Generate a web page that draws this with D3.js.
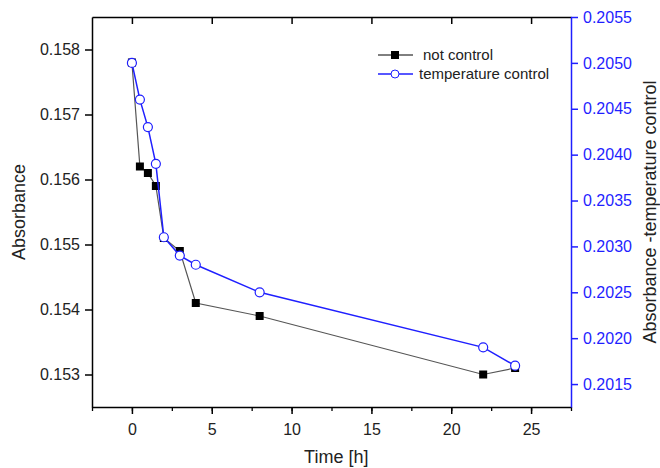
<!DOCTYPE html>
<html>
<head>
<meta charset="utf-8">
<script src="https://cdn.jsdelivr.net/npm/d3@7"></script>
<style>
	body { margin: 0; background: #fff; }
	svg { font-family: "Liberation Sans", Arial, sans-serif; }
	.tick text { font-size: 16px; }
</style>
</head>
<body>
<div id="chart"></div>
<script>

// time points (h)
const hours = [0, 0.5, 1, 1.5, 2, 3, 4, 8, 22, 24];
// absorbance, not controlled (left axis)
const notControl = [0.1578, 0.1562, 0.1561, 0.1559, 0.1551, 0.1549, 0.1541, 0.1539, 0.1530, 0.1531];
// absorbance, temperature controlled (right axis)
const tempControl = [0.2050, 0.2046, 0.2043, 0.2039, 0.2031, 0.2029, 0.2028, 0.2025, 0.2019, 0.2017];

const xTicks = [0, 5, 10, 15, 20, 25];
const yLeftTicks = [0.153, 0.154, 0.155, 0.156, 0.157, 0.158];
const yRightTicks = [0.2015, 0.2020, 0.2025, 0.2030, 0.2035, 0.2040, 0.2045, 0.2050, 0.2055];

const width = 660, height = 468;
const margin = { top: 17, right: 89, bottom: 61, left: 92 };
const blue = "#1f1fff";

const svg = d3.select("#chart").append("svg")
	.attr("width", width)
	.attr("height", height);

const x = d3.scaleLinear().domain([-2.5, 27.5]).range([margin.left, width - margin.right]);
const yL = d3.scaleLinear().domain([0.1525, 0.1585]).range([height - margin.bottom, margin.top]);
const yR = d3.scaleLinear().domain([0.20125, 0.2055]).range([height - margin.bottom, margin.top]);

const x0 = margin.left, x1 = width - margin.right;
const y0 = height - margin.bottom, y1 = margin.top;

// minor ticks helper
function minor(scale, step) {
	const [a, b] = scale.domain();
	const out = [];
	for (let v = Math.ceil(a / step - 1e-9) * step; v <= b + 1e-12; v += step) out.push(+v.toFixed(6));
	return out;
}

// bottom axis
const gx = svg.append("g").attr("transform", `translate(0,${y0})`);
gx.call(d3.axisBottom(x).tickValues(minor(x, 2.5)).tickSize(4).tickFormat(""));
gx.call(g => g.selectAll(".tick line").attr("stroke", "#000").attr("stroke-width", 1.3));
const gx2 = svg.append("g").attr("transform", `translate(0,${y0})`);
gx2.call(d3.axisBottom(x).tickValues(xTicks).tickSize(7).tickPadding(10).tickSizeOuter(0));
gx2.select(".domain").attr("stroke-width", 1.5);
gx2.selectAll(".tick line").attr("stroke-width", 1.5);
gx2.selectAll(".tick text").attr("fill", "#222");

// top axis, inward ticks
const gt = svg.append("g").attr("transform", `translate(0,${y1})`);
gt.call(d3.axisBottom(x).tickValues(minor(x, 2.5)).tickSize(4).tickFormat("").tickSizeOuter(0));
gt.call(d3.axisBottom(x).tickValues(xTicks).tickSize(7).tickFormat("").tickSizeOuter(0));
gt.selectAll(".domain").attr("stroke-width", 1.5);
gt.selectAll(".tick line").attr("stroke-width", 1.5);

// left axis
const gl = svg.append("g").attr("transform", `translate(${x0},0)`);
gl.call(d3.axisLeft(yL).tickValues(minor(yL, 0.0005)).tickSize(4).tickFormat("").tickSizeOuter(0));
gl.call(d3.axisLeft(yL).tickValues(yLeftTicks).tickSize(7).tickPadding(5).tickFormat(d3.format(".3f")).tickSizeOuter(0));
gl.selectAll(".domain").attr("stroke-width", 1.5);
gl.selectAll(".tick line").attr("stroke-width", 1.5);
gl.selectAll(".tick text").attr("fill", "#222");

// right axis (blue)
const gr = svg.append("g").attr("transform", `translate(${x1},0)`);
gr.call(d3.axisRight(yR).tickValues(minor(yR, 0.00025)).tickSize(4).tickFormat("").tickSizeOuter(0));
gr.call(d3.axisRight(yR).tickValues(yRightTicks).tickSize(7).tickPadding(5).tickFormat(d3.format(".4f")).tickSizeOuter(0));
gr.selectAll(".domain").attr("stroke", blue).attr("stroke-width", 1.5);
gr.selectAll(".tick line").attr("stroke", blue).attr("stroke-width", 1.5);
gr.selectAll(".tick text").attr("fill", blue);

// axis titles
svg.append("text")
	.attr("transform", `translate(${x(12.8)},${height - 5})`)
	.attr("text-anchor", "middle")
	.attr("font-size", 18)
	.attr("fill", "#222")
	.text("Time [h]");
svg.append("text")
	.attr("transform", `translate(25,${(y0 + y1) / 2}) rotate(-90)`)
	.attr("text-anchor", "middle")
	.attr("font-size", 18)
	.attr("fill", "#222")
	.text("Absorbance");
svg.append("text")
	.attr("transform", `translate(656,${(y0 + y1) / 2}) rotate(-90)`)
	.attr("text-anchor", "middle")
	.attr("font-size", 18)
	.attr("fill", "#222")
	.text("Absorbance -temperature control");

// series
const lineL = d3.line().x((d, i) => x(hours[i])).y(d => yL(d));
const lineR = d3.line().x((d, i) => x(hours[i])).y(d => yR(d));

svg.append("path")
	.attr("d", lineL(notControl))
	.attr("fill", "none")
	.attr("stroke", "#555")
	.attr("stroke-width", 1.2);

svg.selectAll(".sq").data(notControl).join("rect")
	.attr("class", "sq")
	.attr("x", (d, i) => x(hours[i]) - 4)
	.attr("y", d => yL(d) - 4)
	.attr("width", 8)
	.attr("height", 8)
	.attr("fill", "#000");

svg.append("path")
	.attr("d", lineR(tempControl))
	.attr("fill", "none")
	.attr("stroke", blue)
	.attr("stroke-width", 1.5);

svg.selectAll(".circ").data(tempControl).join("circle")
	.attr("class", "circ")
	.attr("cx", (d, i) => x(hours[i]))
	.attr("cy", d => yR(d))
	.attr("r", 4.5)
	.attr("fill", "#fff")
	.attr("stroke", blue)
	.attr("stroke-width", 1.2);

// legend
const leg = svg.append("g").attr("font-size", 15).attr("fill", "#222");
leg.append("line").attr("x1", 378).attr("x2", 413).attr("y1", 55).attr("y2", 55).attr("stroke", "#000");
leg.append("rect").attr("x", 391).attr("y", 51).attr("width", 8).attr("height", 8).attr("fill", "#000");
leg.append("text").attr("x", 423).attr("y", 60).text("not control");
leg.append("line").attr("x1", 378).attr("x2", 413).attr("y1", 74).attr("y2", 74).attr("stroke", blue).attr("stroke-width", 1.5);
leg.append("circle").attr("cx", 395).attr("cy", 74).attr("r", 4).attr("fill", "#fff").attr("stroke", blue);
leg.append("text").attr("x", 419).attr("y", 79).text("temperature control");

</script>
</body>
</html>
